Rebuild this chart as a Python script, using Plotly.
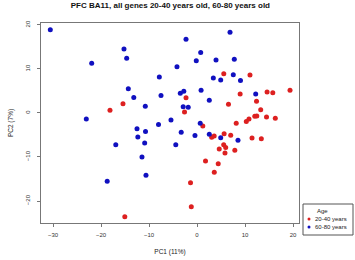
import plotly.graph_objects as go

# Age 20-40 years (red)
young_pc1 = [-15.42, -18.13, -2.29, -2.60, 5.58, 11.04, 8.99, 14.60, 15.79, 19.38,
             12.40, 6.56, 13.27, 12.04, 12.46, 10.83, 10.27, 14.48, 16.31, 8.17,
             1.21, 3.06, 3.58, 5.65, 7.02, 11.46, 13.40, 5.56, 5.98, 4.63,
             7.88, 5.83, 1.77, 4.42, 3.60, -1.35, -1.19, -15.04]
young_pc2 = [2.11, 0.61, 3.45, 0.25, 8.93, 8.64, 4.32, 4.77, 4.61, 5.18,
             2.66, 1.98, 0.75, -0.75, -0.66, -1.36, -1.93, -0.91, -1.20, -2.32,
             -2.93, -5.50, -5.25, -4.73, -5.05, -5.68, -5.84, -7.23, -7.84, -8.18,
             -8.45, -9.09, -10.91, -11.55, -13.45, -15.86, -21.32, -23.57]

# Age 60-80 years (blue)
old_pc1 = [-30.56, -15.21, -14.65, -21.94, -2.29, 6.88, 0.77, -0.15, 3.96, 7.77,
           -4.17, -7.85, 7.56, 3.40, 4.94, 9.06, -14.31, -13.17, -7.50, -3.48,
           -2.75, 0.85, 2.56, 12.23, -10.77, -2.88, -1.83, -23.06, -5.42, -8.02,
           0.67, -12.50, -10.73, -12.33, -3.29, -0.42, 2.56, 4.94, 8.54, -16.92,
           -10.90, -4.42, -11.46, -10.63, -18.71]
old_pc2 = [18.93, 14.55, 12.43, 11.30, 16.75, 18.34, 13.77, 11.86, 12.05, 12.20,
           10.52, 8.18, 8.70, 7.95, 7.50, 7.39, 5.50, 3.52, 3.98, 4.50,
           4.93, 5.16, 2.89, 4.32, 1.52, 1.41, 1.30, -1.36, -1.59, -2.61,
           -2.34, -3.57, -4.20, -5.45, -4.36, -5.11, -4.84, -5.61, -6.18, -7.23,
           -6.82, -7.20, -10.00, -14.16, -15.52]

x_ticks = [-30, -20, -10, 0, 10, 20]
y_ticks = [-20, -10, 0, 10, 20]

legend_title = "Age"
group_names = ["20-40 years", "60-80 years"]

RED = "#DD2020"
BLUE = "#1010C0"
colors = [RED, BLUE]

fig = go.Figure()
fig.add_trace(go.Scatter(x=young_pc1, y=young_pc2, mode="markers", name=group_names[0],
                         marker=dict(color=RED, size=5)))
fig.add_trace(go.Scatter(x=old_pc1, y=old_pc2, mode="markers", name=group_names[1],
                         marker=dict(color=BLUE, size=5)))

axis_common = dict(showgrid=False, zeroline=False, showline=True, mirror=True,
                   automargin=False,
                   linecolor="#777777", linewidth=1, ticks="outside", ticklen=3,
                   tickcolor="#777777", tickfont=dict(size=6, color="#333333"))

# manual legend in R style (compact box at lower right, outside plot)
PW, PH = 258.0, 200.0  # plot area size in px
def px_x(p):
    return (p - 41) / PW
def px_y(p):
    return (223 - p) / PH

shapes = [dict(type="rect", xref="paper", yref="paper",
               x0=px_x(303), x1=px_x(353), y0=px_y(235), y1=px_y(204),
               line=dict(color="#555555", width=1), fillcolor="white")]
annotations = [dict(text=legend_title, xref="paper", yref="paper",
                    x=px_x(315), y=px_y(211), xanchor="left", yanchor="middle",
                    showarrow=False, font=dict(size=6, color="#222222"))]
for i, (name, col) in enumerate(zip(group_names, colors)):
    yy = 219 + 8 * i
    shapes.append(dict(type="circle", xref="paper", yref="paper",
                       xsizemode="pixel", ysizemode="pixel",
                       xanchor=px_x(309), yanchor=px_y(yy),
                       x0=-1.5, x1=1.5, y0=-1.5, y1=1.5,
                       fillcolor=col, line=dict(width=0)))
    annotations.append(dict(text=name, xref="paper", yref="paper",
                            x=px_x(313), y=px_y(yy), xanchor="left", yanchor="middle",
                            showarrow=False, font=dict(size=6, color="#222222")))

fig.update_layout(
    width=355, height=260,
    margin=dict(l=41, r=56, t=23, b=37, autoexpand=False),
    paper_bgcolor="white", plot_bgcolor="white",
    font=dict(family="Liberation Sans, Arial, sans-serif", color="#222222"),
    title=dict(text="<b>PFC BA11, all genes 20-40 years old, 60-80 years old</b>",
               font=dict(size=8, color="#111111"), x=0.48, xanchor="center",
               y=0.979, yanchor="middle"),
    xaxis=dict(range=[-32.5, 21.25], tickvals=x_ticks, ticklabelstandoff=3,
               title=dict(text="PC1 (11%)", font=dict(size=6.5), standoff=12),
               **axis_common),
    yaxis=dict(range=[-25.0, 20.45], tickvals=y_ticks, tickangle=-90, ticklabelstandoff=5,
               title=dict(text="PC2 (7%)", font=dict(size=6.5), standoff=10),
               **axis_common),
    shapes=shapes,
    annotations=annotations,
    showlegend=False,
)

fig.write_html("out.html",
               config={"displayModeBar": False},
               post_script="document.body.style.margin='0';document.body.style.overflow='hidden';")
